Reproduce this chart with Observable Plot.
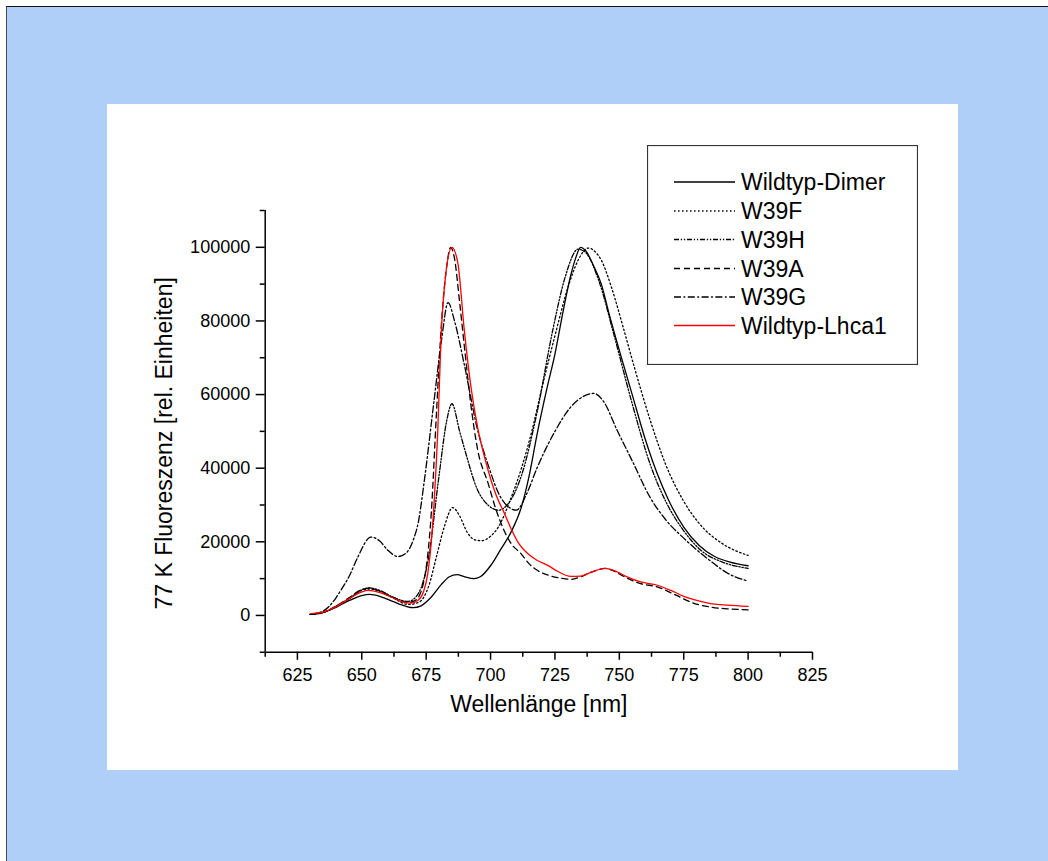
<!DOCTYPE html>
<html><head><meta charset="utf-8">
<script src="https://cdn.jsdelivr.net/npm/d3@7"></script>
<script src="https://cdn.jsdelivr.net/npm/@observablehq/plot@0.6"></script>
<style>
html,body{margin:0;padding:0;background:#fff;}
#page{position:relative;width:1048px;height:861px;overflow:hidden;font-family:"Liberation Sans",Arial,sans-serif;}
#bg{position:absolute;left:6px;top:6px;width:1042px;height:855px;background:#AFCEF8;border-left:1.5px solid #4a4a4a;border-top:1px solid #111;box-sizing:border-box;}
#panel{position:absolute;left:107px;top:104px;width:851px;height:666px;background:#fff;}
#panel svg{display:block;}
#legend{position:absolute;left:647px;top:145px;}
</style></head><body>
<div id="page"><div id="bg"></div><div id="panel"></div><div id="legend"></div></div>
<script>
// ---- data ----
const seriesNames = ["Wildtyp-Dimer", "W39F", "W39H", "W39A", "W39G", "Wildtyp-Lhca1"];
const seriesColors = ["#000000", "#000000", "#000000", "#000000", "#000000", "#ff0000"];
const seriesDashes = ["none", "1.5 2.5", "5 1.8 1.3 1.8 1.3 1.8", "6 4", "7 2.5 1.8 2.5", "none"];

const dimerNm = [630,635,640,645,650,653,657,662,667,670,673,677,681,684,687,690,693.5,696,700,704,708,712,715,718,722,725,728,731,733,735,737,740,743,746,750,755,760,765,769,775,781,787,793,800];
const dimerVal = [300,800,2200,4000,5400,5700,5200,3800,2500,2100,2600,5000,8500,10500,11100,10500,10000,10500,13500,18000,22700,29500,38000,49000,62000,71000,82000,92000,97000,100000,99000,95000,90000,82000,72000,60000,48000,38000,31500,24000,19000,16000,14500,13500];

const w39fNm = [630,635,640,645,650,653,657,662,668,672,676,679,682,685.3,688,691,694,696.5,700,703,708,712,716,720,725,730,734,738,741,743,747,752,756,762,768,775,781,790,800];
const w39fVal = [300,800,2500,4500,6800,7200,6500,4800,3000,3500,8000,16000,24000,29300,27000,22500,20500,20300,21500,24000,32000,40000,50000,62000,76000,89000,96500,99800,98500,96500,89000,77000,67000,53000,41000,31000,25000,19500,16300];

const w39hNm = [630,635,640,645,650,653,657,662,668,672,676,680,683,685,688,690,695,699,703,707,712,718,724,729,734,737,742,748,755,762,768,775,782,790,800];
const w39hVal = [300,800,2500,4500,7000,7500,6800,5000,3800,6000,16000,38000,53000,57500,50000,45000,34000,30000,28600,30500,38000,55000,77000,92000,99500,98500,91000,76000,57500,41000,31000,23000,17500,14500,12800];

const w39aNm = [630,635,640,645,650,653,657,662,668,671,674,677,679,681,683,684.5,686,688,690,692.4,695,699,702,705.3,708,711.8,715,718.3,723,728.6,731,735,740,744.5,748,752,758,765,772,779,786,792,800];
const w39aVal = [300,800,2500,4800,7000,7400,6600,5000,3500,4200,9000,28000,55000,80000,95000,100000,97000,85000,72000,57000,45000,36000,29000,23000,19500,16800,14000,12200,10800,10000,9800,10500,12000,12800,12000,10500,8700,7700,5500,3300,2200,1800,1500];

const w39gNm = [630,635,640,642,645,648.5,653.5,657,660,664,667,670,672,674.3,678,681,683.5,686,689.7,695,699,704,710,714,718,725,731,736,740,744,749,755,762,768,775,785,792,800];
const w39gVal = [300,1200,4800,7000,10500,15900,21300,20200,17800,16000,16800,20500,25500,36700,58000,75000,85000,80000,68500,50300,41000,32000,28600,33000,40000,50000,56500,59500,60300,58000,50500,42000,32000,26000,21000,15000,11500,9300];

const lhca1Nm = [630,635,640,645,650,652.5,657,662,666,669,672,674,675.6,677,678.2,679.5,680.8,682.5,685,687.3,689.8,692.4,695,698.3,702,705.4,708,711,714.4,718,722.2,726,731.2,735,740,744.5,748,753,758.3,764.8,770,775,779,785,792,800];
const lhca1Val = [500,900,2400,4500,6400,6800,6200,4800,3600,3350,4200,6500,11300,20000,32000,50000,76000,92000,100000,95700,77500,62000,51000,41300,33000,27700,23500,19500,16800,15000,13600,12000,10600,10700,12000,12800,12200,10500,9100,8200,6800,5200,4300,3300,2800,2450];

const xDomain = [612.5, 825];
const yDomain = [-10000, 110000];
const xMajor = [625, 650, 675, 700, 725, 750, 775, 800, 825];
const xMinor = [612.5, 637.5, 662.5, 687.5, 712.5, 737.5, 762.5, 787.5, 812.5];
const yMajor = [0, 20000, 40000, 60000, 80000, 100000];
const yMinor = [-10000, 10000, 30000, 50000, 70000, 90000, 110000];
const xTitle = "Wellenlänge [nm]";
const yTitle = "77 K Fluoreszenz [rel. Einheiten]";

// ---- build table ----
const seriesNm = [dimerNm, w39fNm, w39hNm, w39aNm, w39gNm, lhca1Nm];
const seriesVal = [dimerVal, w39fVal, w39hVal, w39aVal, w39gVal, lhca1Val];
const rows = [];
seriesNames.forEach((name, i) => {
  seriesNm[i].forEach((nm, j) => rows.push({series: name, nm, v: seriesVal[i][j]}));
});

const lineMarks = seriesNames.map((name, i) =>
  Plot.line(rows.filter(d => d.series === name), {
    x: "nm", y: "v", stroke: seriesColors[i], strokeWidth: 1.3,
    strokeDasharray: seriesDashes[i] === "none" ? undefined : seriesDashes[i],
    curve: "monotone-x"
  })
);

const chart = Plot.plot({
  width: 851, height: 666,
  marginLeft: 157.7, marginRight: 146, marginTop: 106, marginBottom: 118.25,
  x: {domain: xDomain, axis: null},
  y: {domain: yDomain, axis: null},
  style: {fontFamily: "'Liberation Sans', Arial, sans-serif", fontSize: "18px", background: "white", color: "black"},
  marks: [
    Plot.ruleX([xDomain[0]], {y1: yDomain[0], y2: yDomain[1], stroke: "#000", strokeWidth: 1.5}),
    Plot.ruleY([yDomain[0]], {x1: xDomain[0], x2: xDomain[1], stroke: "#000", strokeWidth: 1.5}),
    Plot.axisY({ticks: yMajor, anchor: "left", tickSize: 9, tickPadding: 6, tickFormat: d => String(d), strokeWidth: 1.5, fontSize: 18, label: null}),
    Plot.axisY({ticks: yMinor, anchor: "left", tickSize: 5, tickFormat: () => "", strokeWidth: 1.5, label: null}),
    Plot.axisX({ticks: xMajor, anchor: "bottom", tickSize: 8, tickPadding: 8, tickFormat: d => String(d), strokeWidth: 1.5, fontSize: 18, label: null}),
    Plot.axisX({ticks: xMinor, anchor: "bottom", tickSize: 5, tickFormat: () => "", strokeWidth: 1.5, label: null}),
    ...lineMarks,
    Plot.text([xTitle], {text: d => d, frameAnchor: "bottom", dy: 60, fontSize: 23}),
    Plot.text([yTitle], {text: d => d, frameAnchor: "left", textAnchor: "middle", rotate: -90, dx: -101, dy: 12, fontSize: 23})
  ]
});
document.getElementById("panel").appendChild(chart);

// ---- legend ----
const lg = d3.select("#legend").append("svg").attr("width", 271).attr("height", 220)
  .style("display", "block").style("font-family", "'Liberation Sans', Arial, sans-serif");
lg.append("rect").attr("x", 0.5).attr("y", 0.5).attr("width", 270).attr("height", 219)
  .attr("fill", "white").attr("stroke", "#333").attr("stroke-width", 1.2);
const rowY = [37, 66, 94.5, 123.5, 152, 180.5];
seriesNames.forEach((name, i) => {
  lg.append("line").attr("x1", 27).attr("x2", 88).attr("y1", rowY[i]).attr("y2", rowY[i])
    .attr("stroke", seriesColors[i]).attr("stroke-width", 1.3)
    .attr("stroke-dasharray", seriesDashes[i] === "none" ? null : seriesDashes[i]);
  lg.append("text").attr("x", 94).attr("y", rowY[i]).attr("dy", "0.36em")
    .attr("font-size", 23).attr("fill", "#000").text(name);
});
</script></body></html>
